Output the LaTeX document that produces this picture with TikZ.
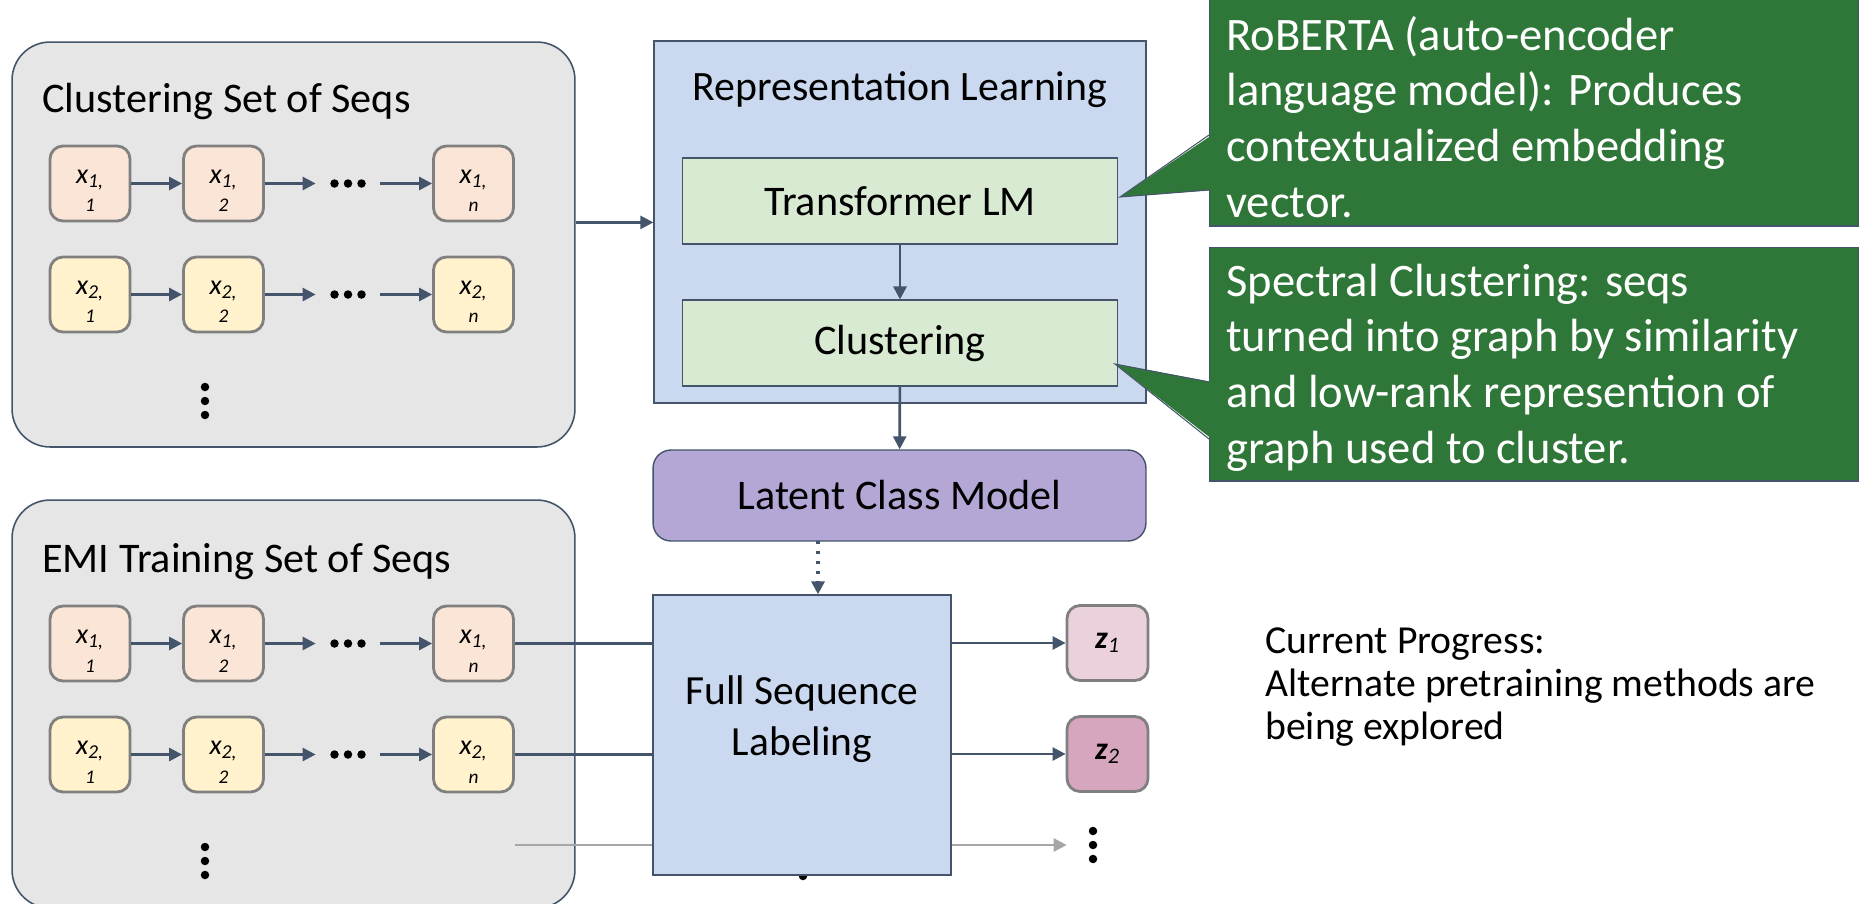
\documentclass[tikz,border=0pt]{standalone}
\usepackage{fontspec}
\setmainfont{Carlito}
\usepackage{tikz}
\usetikzlibrary{calc}
\usetikzlibrary{arrows.meta}

\definecolor{slate}{RGB}{68,84,106}
\definecolor{setgray}{RGB}{231,230,230}
\definecolor{tokgray}{RGB}{128,128,128}
\definecolor{orangefill}{RGB}{251,229,214}
\definecolor{yellowfill}{RGB}{255,242,204}
\definecolor{blockblue}{RGB}{202,217,239}
\definecolor{stagegreen}{RGB}{217,234,211}
\definecolor{lcmpurple}{RGB}{180,167,214}
\definecolor{zpink}{RGB}{234,209,220}
\definecolor{zmauve}{RGB}{213,166,189}
\definecolor{callgreen}{RGB}{47,119,56}
\definecolor{lightarrow}{RGB}{166,166,166}

\newcommand{\idx}[1]{{\fontsize{11}{13}\selectfont #1}}

\tikzset{
  setbox/.style={draw=slate, line width=0.9pt, fill=setgray, rounded corners=0.76cm,
    minimum width=11.26cm, minimum height=8.1cm},
  settitle/.style={inner sep=0pt, font=\fontsize{24}{28}\selectfont},
  tok/.style={draw=tokgray, line width=1.6pt, rounded corners=0.26cm, minimum width=1.6cm,
    minimum height=1.5cm, inner sep=0pt, align=center, font=\fontsize{16}{16.5}\selectfont\itshape},
  tokdots/.style={minimum width=1.28cm, minimum height=0.3cm, inner sep=0pt},
  vdots/.style={minimum width=1.04cm, minimum height=0.6cm, inner sep=0pt},
  blockbox/.style={draw=slate, line width=0.8pt, fill=blockblue},
  stage/.style={draw=slate, line width=0.6pt, fill=stagegreen, minimum width=8.72cm,
    minimum height=1.72cm, font=\fontsize{24}{28}\selectfont},
  arr/.style={draw=slate, line width=1.5pt, -{Triangle[length=0.26cm,width=0.26cm]}},
  feed/.style={draw=slate, line width=1.5pt},
  callout/.style={draw=slate, line width=0.6pt, fill=callgreen, minimum width=13cm},
  calltext/.style={text=white, align=left, inner sep=0pt, font=\fontsize{26.5}{31.7}\selectfont},
}

\begin{document}
\begin{tikzpicture}[x=0.02cm,y=-0.02cm]
\useasboundingbox (0,0) rectangle (1866,903);

% the two sets of sequences
\node[setbox] (clusbox) at (293.5,244.5) {};
\node[settitle, anchor=base west] (clustitle) at (42,112) {Clustering Set of Seqs};
\node[setbox, minimum height=8.16cm] (emibox) at (293.5,704) {};
\node[settitle, anchor=base west] (emititle) at (42,572) {EMI Training Set of Seqs};

\foreach \r/\y/\col/\k in {c1/183.5/orangefill/1, c2/294.5/yellowfill/2, e1/643.5/orangefill/1, e2/754.5/yellowfill/2}{
  \node[tok, fill=\col] (\r-a) at (90,\y) {\rule{0pt}{0.56cm}x\textsubscript{\k,}\\\idx{1}};
  \node[tok, fill=\col] (\r-b) at (223.5,\y) {\rule{0pt}{0.56cm}x\textsubscript{\k,}\\\idx{2}};
  \node[tokdots] (\r-d) at (348,\y) {};
  \node[tok, fill=\col] (\r-n) at (473.5,\y) {\rule{0pt}{0.56cm}x\textsubscript{\k,}\\\idx{n}};
  \draw[arr] (\r-a) -- (\r-b);
  \draw[arr] (\r-b) -- (\r-d);
  \draw[arr] (\r-d) -- (\r-n);
  \foreach \dx in {-13.5,0,13.5}
    \fill ($(\r-d)+(\dx,0)$) circle (0.085cm);
}

\node[vdots] (cvd) at (205,401) {};
\node[vdots] (evd) at (205,861) {};
\node[vdots] (zdots) at (1093,845) {};
\foreach \n in {cvd,evd,zdots}
  \foreach \dy in {-14,0,14}
    \fill ($(\n)+(0,\dy)$) circle (0.085cm);

% representation learning
\node[blockbox, minimum width=9.84cm, minimum height=7.24cm] (rep) at (900,222) {};
\node[inner sep=0pt, anchor=base, font=\fontsize{23.8}{28}\selectfont] (reptitle) at (900,100) {Representation Learning};
\node[stage] (tlm) at (900,201) {Transformer LM};
\node[stage] (clu) at (900,343) {Clustering};
\node[draw=slate, line width=0.8pt, fill=lcmpurple, rounded corners=0.36cm, minimum width=9.86cm,
  minimum height=1.82cm, font=\fontsize{24}{28}\selectfont] (lcm) at (899.5,495.5) {Latent Class Model};

\draw[arr] (c1-n.south -| clusbox.east) -- (c1-n.south -| rep.west);
\draw[arr] (tlm) -- (clu);
\draw[arr] (clu) -- (lcm);

% labeling
\draw[draw=lightarrow, line width=1.5pt, -{Triangle[length=0.26cm,width=0.26cm]}] (e2-n.east |- zdots) -- (zdots.west);
\fill (803,876) circle (0.085cm);
\node[blockbox, minimum width=5.96cm, minimum height=5.6cm] (fsl) at (802,735) {};
\node[inner sep=0pt, align=center, font=\fontsize{23.6}{28.9}\selectfont] (fsltext) at (802,719) {Full Sequence\\Labeling};

\coordinate (lcmout) at (818,541);
\draw[draw=slate, line width=1.8pt, dash pattern=on 0.06cm off 0.14cm,
  -{Triangle[length=0.26cm,width=0.26cm]}] (lcmout) -- (lcmout |- fsl.north);

\draw[feed] (e1-n.east) -- (e1-n.east -| fsl.west);
\draw[feed] (e2-n.east) -- (e2-n.east -| fsl.west);

\node[tok, fill=zpink, minimum width=1.62cm, font=\fontsize{18}{20}\selectfont\itshape] (z1) at (1107.5,643) {\textbf{z}\textsubscript{1}};
\node[tok, fill=zmauve, minimum width=1.62cm, font=\fontsize{18}{20}\selectfont\itshape] (z2) at (1107.5,754) {\textbf{z}\textsubscript{2}};
\draw[arr] (fsl.east |- z1) -- (z1);
\draw[arr] (fsl.east |- z2) -- (z2);

% callouts
\node[callout, minimum height=4.72cm] (rob) at (1534,108) {};
\fill[callgreen] (1212,135) -- (1120,197) -- (1212,190) -- cycle;
\draw[slate, line width=0.6pt] (1209,135) -- (1120,197) -- (1209,190);
\node[calltext, anchor=west] (robtext) at (1226,117) {RoBERTA (auto-encoder\\language model): Produces\\contextualized embedding\\vector.};

\node[callout, minimum height=4.68cm] (spec) at (1534,364) {};
\fill[callgreen] (1212,382) -- (1115,364) -- (1212,439) -- cycle;
\draw[slate, line width=0.6pt] (1209,382) -- (1115,364) -- (1209,439);
\node[calltext, anchor=west] (spectext) at (1226,367.5) {Spectral Clustering: seqs\\turned into graph by similarity\\and low-rank represention of\\graph used to cluster.};

\node[inner sep=0pt, align=left, anchor=west, font=\fontsize{22.6}{24.2}\selectfont] (progress) at (1265,687) {Current Progress:\\Alternate pretraining methods are\\being explored};

\end{tikzpicture}
\end{document}
